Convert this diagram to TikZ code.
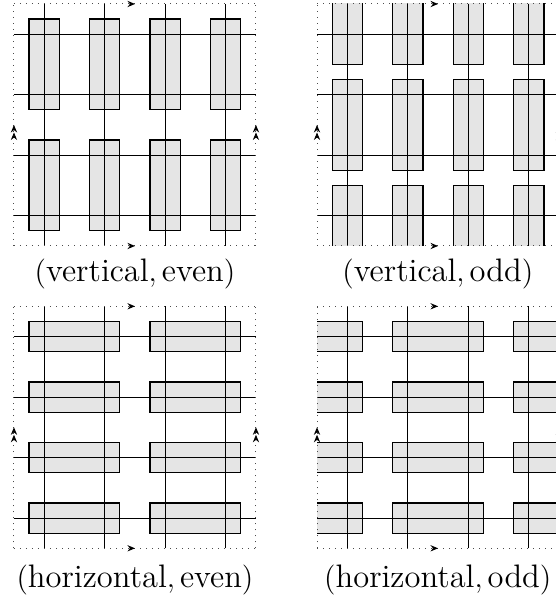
\documentclass[tikz,border=0pt]{standalone}
\usepackage{amsmath}
\usepackage{tikz}
\usetikzlibrary{arrows.meta,decorations.markings}
\tikzset{
    tile/.style={draw=black,fill=black!10,line width=0.5pt},
    gridline/.style={draw=black,line width=0.4pt},
    frameline/.style={dotted,draw=black!70,line width=0.4pt},
    hmark/.style={postaction={decorate},decoration={markings,
        mark=at position 0.5 with {\arrow[black]{Stealth[length=3pt,width=2.5pt]}}}},
    vmark/.style={postaction={decorate},decoration={markings,
        mark=at position 0.5 with {\arrow[black]{Stealth[length=3pt,width=2.5pt] Stealth[length=3pt,width=2.5pt]}}}},
    every node/.style={font=\fontsize{13}{15}\selectfont}
}
% dotted boundary of the torus, with its gluing marks
\newcommand{\torusframe}{%
    \draw[frameline,hmark] (0,0) -- (4,0);
    \draw[frameline,hmark] (0,4) -- (4,4);
    \draw[frameline,vmark] (0,0) -- (0,4);
    \draw[frameline,vmark] (4,0) -- (4,4);
}
% the lattice lines
\newcommand{\torusgrid}{%
    \foreach \k in {0.5,1.5,2.5,3.5} {
        \draw[gridline] (\k,0) -- (\k,4);
        \draw[gridline] (0,\k) -- (4,\k);
    }
}
\begin{document}
\begin{tikzpicture}[x=0.85cm,y=0.85cm]
    \useasboundingbox (0,0) rectangle (9.174,9.901);

    % vertical, even
    \begin{scope}[shift={(0.231,5.835)}]
        \foreach \i in {0,...,3}
            \foreach \j in {0.25,2.25}
                \draw[tile] (\i+0.25,\j) rectangle ++(0.5,1.5);
        \torusgrid
        \torusframe
    \end{scope}
    \node (ve) at (2.231,5.372) {$(\text{vertical},\text{even})$};

    % vertical, odd
    \begin{scope}[shift={(5.24,5.835)}]
        \begin{scope}
            \clip (0,0) rectangle (4,4);
            \foreach \i in {0,...,3} {
                \draw[tile] (\i+0.25,-1) rectangle ++(0.5,2);
                \draw[tile] (\i+0.25,1.25) rectangle ++(0.5,1.5);
                \draw[tile] (\i+0.25,3) rectangle ++(0.5,2);
            }
        \end{scope}
        \torusgrid
        \torusframe
    \end{scope}
    \node (vo) at (7.236,5.372) {$(\text{vertical},\text{odd})$};

    % horizontal, even
    \begin{scope}[shift={(0.231,0.838)}]
        \foreach \j in {0,...,3}
            \foreach \i in {0.25,2.25}
                \draw[tile] (\i,\j+0.25) rectangle ++(1.5,0.5);
        \torusgrid
        \torusframe
    \end{scope}
    \node (he) at (2.231,0.314) {$(\text{horizontal},\text{even})$};

    % horizontal, odd
    \begin{scope}[shift={(5.24,0.838)}]
        \begin{scope}
            \clip (0,0) rectangle (4,4);
            \foreach \j in {0,...,3}
                \foreach \i in {-0.75,1.25,3.25}
                    \draw[tile] (\i,\j+0.25) rectangle ++(1.5,0.5);
        \end{scope}
        \torusgrid
        \torusframe
    \end{scope}
    \node (ho) at (7.236,0.314) {$(\text{horizontal},\text{odd})$};
\end{tikzpicture}
\end{document}
